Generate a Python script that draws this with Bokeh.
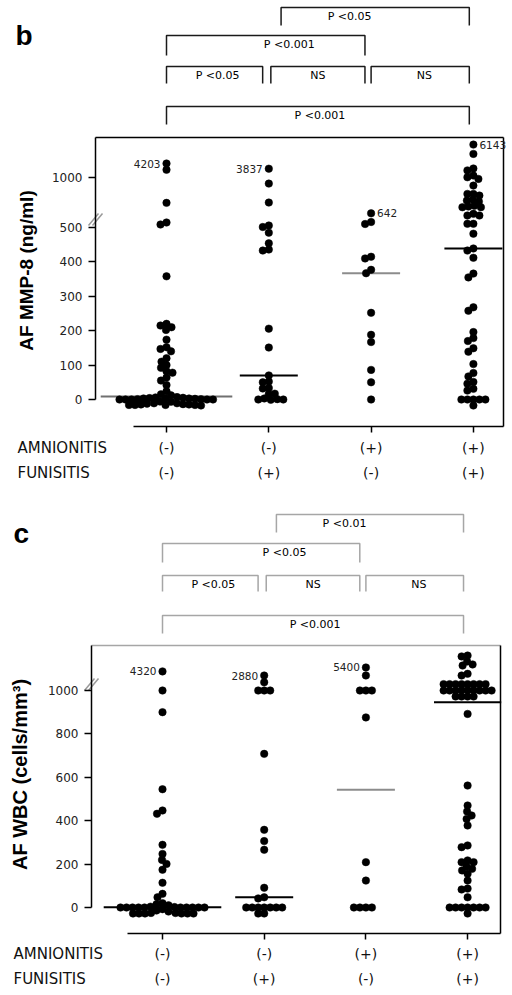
import numpy as np
from bokeh.plotting import figure
from bokeh.layouts import column
from bokeh.models import Range1d, FixedTicker, LinearAxis
from bokeh.core.properties import value
from bokeh.embed import file_html
from bokeh.resources import INLINE

# ---------------- categories ----------------
group_pos = [1, 2, 3, 4]
amnionitis_row = ["(-)", "(-)", "(+)", "(+)"]
funisitis_row = ["(-)", "(+)", "(-)", "(+)"]
row_titles = ["AMNIONITIS", "FUNISITIS"]

# ---------------- panel b: AF MMP-8 (ng/ml) ----------------
mmp8_g1 = [4203, 3800, 747, 550, 530, 358, 220, 215, 210, 205, 174, 152, 147, 140,
           120, 110, 100, 92, 85, 78, 68, 55, 42, 28,
           15, 12, 10, 7, 6, 5, 5, 4, 4, 3, 3, 3, 2, 2, 2, 1, 1, 1, 1,
           0, 0, 0, 0, 0, 0, 0, 0, 0, 0, 0]
mmp8_g2 = [3837, 940, 750, 520, 505, 485, 454, 436, 433, 206, 151, 70, 55, 50,
           35, 32, 20, 17, 3, 2, 1, 0, 0]
mmp8_g3 = [642, 555, 535, 415, 410, 377, 367, 252, 188, 167, 86, 50, 0]
mmp8_g4 = [6143, 5190, 3850, 3290, 1655, 1110, 987, 920, 837, 837, 820, 787, 770, 770,
           753, 720, 703, 703, 637, 620, 620, 537, 537, 482,
           439, 433, 412, 366, 355, 268, 258, 196, 180, 170, 149, 139, 103, 77, 67,
           51, 46, 31, 26, 0, 0, 0, 0, 0, 0]
mmp8_ticks = [0, 100, 200, 300, 400, 500, 1000]
mmp8_pvalues = ["P <0.05", "P <0.001", "P <0.05", "NS", "NS", "P <0.001"]
# broken axis: value -> axis coordinate
mmp8_scale_v = [0, 500, 1000, 3837, 4203, 6143]
mmp8_scale_t = [0, 500, 645, 671, 686, 741]

# ---------------- panel c: AF WBC (cells/mm3) ----------------
wbc_g1 = [4320, 1000, 900, 545, 447, 432, 289, 247, 224, 201, 174, 114, 63, 47,
          20, 15, 10, 6, 4, 2,
          0, 0, 0, 0, 0, 0, 0, 0, 0, 0, 0, 0, 0, 0, 0, 0, 0, 0, 0, 0]
wbc_g2 = [2880, 2035, 1000, 1000, 1000, 708, 358, 306, 266, 91, 47, 42,
          0, 0, 0, 0, 0, 0, 0, 0, 0]
wbc_g3 = [5400, 2900, 1000, 1000, 1000, 876, 209, 124, 0, 0, 0, 0]
wbc_g4 = [8700, 8460, 7320, 6240, 5940, 3486, 2880,
          1800, 1800, 1800, 1800, 1800, 1800, 1800, 1800, 1800, 1800, 1800,
          1000, 1000, 1000, 1000, 1000, 1000, 1000, 1000, 1000, 1000,
          892, 562, 470, 447, 424, 408, 378, 286, 278, 217, 209, 209, 201, 178,
          171, 155, 124, 87, 83, 47, 0, 0, 0, 0, 0, 0, 0, 0]
wbc_ticks = [0, 200, 400, 600, 800, 1000]
wbc_pvalues = ["P <0.01", "P <0.05", "P <0.05", "NS", "NS", "P <0.001"]
wbc_scale_v = [0, 1000, 2880, 4320, 5400, 9000]
wbc_scale_t = [0, 1000, 1069, 1088, 1106, 1166]


# ---------------- helpers ----------------
def swarm(t_vals, py, D=6.0, w=3.0, dy_lo=-7.0, dy_hi=3.0):
    ys = np.asarray(t_vals, float) * py
    n = len(ys)
    order = np.argsort(-ys, kind="stable")
    DX, DY = np.meshgrid(np.arange(-90.0, 90.01, 0.5), np.arange(dy_lo, dy_hi + 0.01, 0.5))
    DX = DX.ravel()
    DY = DY.ravel()
    base = np.abs(DX) + w * np.abs(DY) + 0.4 * DY
    px = np.empty(0)
    pyy = np.empty(0)
    offx = np.zeros(n)
    offy = np.zeros(n)
    for i in order:
        cy = ys[i] + DY
        if len(px):
            d2 = (DX[:, None] - px[None, :]) ** 2 + (cy[:, None] - pyy[None, :]) ** 2
            cost = np.where((d2 >= D * D).all(axis=1), base, np.inf)
        else:
            cost = base
        k = int(np.argmin(cost))
        offx[i] = DX[k]
        offy[i] = DY[k]
        px = np.append(px, DX[k])
        pyy = np.append(pyy, cy[k])
    return offx, offy


BRACKETS = [(2.12, 3.96, 2.79, 0), (1.0, 2.94, 2.2, 1), (1.0, 1.94, 1.5, 2),
            (2.02, 2.94, 2.48, 2), (3.0, 3.96, 3.52, 2), (1.0, 3.96, 2.5, 3)]
PAGE_W = 512
TXT = value("DejaVu Sans")
ARIAL = value("Liberation Sans")


def panel(letter, groups, sv, st, ticks, ylabel, ylabel_size, pvals, G,
          bracket_color, top_color, label_side, med_colors):
    x1, dxp, py, y0 = G["x1"], G["dxp"], G["py"], G["y0"]

    def gx(px):
        return 1 + (px - x1) / dxp

    def ty(page_y):
        return (y0 - page_y) / py

    top, bot = G["fig"]
    p = figure(width=PAGE_W, height=bot - top, x_range=Range1d(gx(0), gx(PAGE_W)),
               y_range=Range1d(ty(bot), ty(top)), output_backend="svg",
               toolbar_location=None, min_border=0,
               x_axis_location=None, y_axis_location=None)
    p.outline_line_color = None
    p.xgrid.visible = False
    p.ygrid.visible = False
    p.background_fill_color = "white"
    p.border_fill_color = "white"

    fl, fr, ft, fb = G["fl"], G["fr"], G["ft"], G["fb"]

    # ---- y axis (broken scale) ----
    yt = [float(np.interp(v, sv, st)) for v in ticks]
    yax = LinearAxis(fixed_location=gx(fl), bounds=(0, ty(ft)),
                     ticker=FixedTicker(ticks=yt),
                     major_label_overrides={t: str(v) for t, v in zip(yt, ticks)})
    yax.major_tick_in = 0
    yax.major_tick_out = 7
    yax.minor_tick_line_color = None
    yax.axis_line_width = 1.5
    yax.major_tick_line_width = 1.5
    yax.major_label_standoff = 6
    yax.major_label_text_font = "DejaVu Sans"
    yax.major_label_text_font_size = "12px"
    yax.major_label_text_color = "#222222"
    p.add_layout(yax, "left")

    # ---- x axis ----
    xax = LinearAxis(fixed_location=ty(fb), bounds=(gx(G["axis_start"]), gx(fr)),
                     ticker=FixedTicker(ticks=group_pos),
                     major_label_overrides={g: "" for g in group_pos})
    xax.major_label_text_font_size = "0px"
    xax.major_label_standoff = 0
    xax.major_tick_in = 0
    xax.major_tick_out = 6
    xax.minor_tick_line_color = None
    xax.axis_line_width = 1.5
    xax.major_tick_line_width = 1.5
    p.add_layout(xax, "below")

    # axis title
    p.text(x=[gx(G["title_x"])], y=[ty(G["title_y"])], text=[ylabel], angle=np.pi / 2,
           text_align="center", text_baseline="middle", text_font=ARIAL,
           text_font_style="bold", text_font_size=ylabel_size, text_color="black")

    # top and right frame lines
    p.segment(x0=[gx(fl)], y0=[ty(ft)], x1=[gx(fr)], y1=[ty(ft)], line_color=top_color,
              line_width=1.5)
    p.segment(x0=[gx(fr)], y0=[ty(ft)], x1=[gx(fr)], y1=[ty(fb)], line_color="black",
              line_width=1.5)

    # break marks on the y axis
    by = G["brk_y"]
    p.segment(x0=[gx(fl - 7), gx(fl - 3)], y0=[ty(by + 6), ty(by + 6)],
              x1=[gx(fl + 3), gx(fl + 7)], y1=[ty(by - 6), ty(by - 6)],
              line_color="#9a9a9a", line_width=1.5)

    # ---- significance brackets ----
    xs, ys, tx, tyy = [], [], [], []
    for (l, r, t, lv) in BRACKETS:
        bar, leg = G["levels"][lv]
        xs.append([l, l, r, r])
        ys.append([ty(leg), ty(bar), ty(bar), ty(leg)])
        tx.append(t)
        tyy.append(ty(bar + 9))
    p.multi_line(xs, ys, line_color=bracket_color, line_width=1.5)
    p.text(x=tx, y=tyy, text=pvals, text_align="center", text_baseline="middle",
           text_font=TXT, text_font_size="11px", text_color="black")

    # panel letter
    p.text(x=[gx(G["letter_x"])], y=[ty(G["letter_base"])], text=[letter],
           text_font=ARIAL, text_font_style="bold", text_font_size="28px",
           text_baseline="alphabetic", text_align="left", text_color="black")

    # ---- category labels ----
    r1, r2 = G["row_y"]
    p.text(x=[gx(G["row_x"])] * 2, y=[ty(r1), ty(r2)], text=row_titles, text_align="left",
           text_baseline="middle", text_font=TXT, text_font_size="15px", text_color="#111111")
    p.text(x=group_pos + group_pos, y=[ty(r1)] * 4 + [ty(r2)] * 4,
           text=amnionitis_row + funisitis_row, text_align="center", text_baseline="middle",
           text_font=TXT, text_font_size="14px", text_color="#111111")

    # ---- dots, medians, max labels ----
    dot_x, dot_y = [], []
    mx0, mx1, my, mc = [], [], [], []
    lab_x, lab_y, lab_t, lab_a = [], [], [], []
    for gi, vals in enumerate(groups):
        g = group_pos[gi]
        vals = np.asarray(vals, float)
        t = np.interp(vals, sv, st)
        ox, oy = swarm(t, py)
        dot_x.extend(g + ox / dxp)
        dot_y.extend(t + oy / py)
        med = float(np.interp(np.median(vals), sv, st))
        hw = max(29.0, 1.4 * float(np.max(np.abs(ox)))) / dxp
        mx0.append(g - hw)
        mx1.append(g + hw)
        my.append(med)
        mc.append(med_colors[gi])
        side = label_side[gi]
        if side:
            k = int(np.argmax(vals))
            xx = g + ox[k] / dxp
            if side == "left":
                lab_x.append(xx - 6 / dxp)
                lab_a.append("right")
            else:
                lab_x.append(xx + 6 / dxp)
                lab_a.append("left")
            lab_y.append(t[k] + oy[k] / py)
            lab_t.append(str(int(vals[k])))

    p.segment(x0=mx0, y0=my, x1=mx1, y1=my, line_color=mc, line_width=2)
    p.scatter(x=dot_x, y=dot_y, size=7.5, fill_color="black", line_color="black", line_width=0.5)
    p.text(x=lab_x, y=lab_y, text=lab_t, text_align=lab_a, text_baseline="middle",
           text_font=TXT, text_font_size="10.5px", text_color="#222222")
    return p


GB = dict(x1=166.0, dxp=102.3, py=0.344, fl=95, fr=503, ft=137, fb=426, y0=399.0,
          fig=(0, 500), axis_start=133, levels=[(7, 25), (35, 55), (66, 83), (106, 124)],
          letter_x=15, letter_base=35, row_y=(447, 472), row_x=17, brk_y=219,
          title_x=26, title_y=270)
GC = dict(x1=162.0, dxp=101.7, py=0.217, fl=91, fr=500, ft=645, fb=933, y0=907.0,
          fig=(500, 991), axis_start=127, levels=[(514, 532), (543, 562), (575, 591), (615, 633)],
          letter_x=13, letter_base=533, row_y=(953, 978), row_x=13, brk_y=684,
          title_x=19, title_y=774)

fig_b = panel("b", [mmp8_g1, mmp8_g2, mmp8_g3, mmp8_g4], mmp8_scale_v, mmp8_scale_t,
              mmp8_ticks, "AF MMP-8 (ng/ml)", "19px", mmp8_pvalues, GB,
              "#1a1a1a", "black", ["left", "left", "right", "right"],
              ["#707070", "black", "#8c8c8c", "black"])
fig_c = panel("c", [wbc_g1, wbc_g2, wbc_g3, wbc_g4], wbc_scale_v, wbc_scale_t,
              wbc_ticks, "AF WBC (cells/mm\u00b3)", "20px", wbc_pvalues, GC,
              "#a6a6a6", "#a6a6a6", ["left", "left", "left", None],
              ["black", "black", "#8c8c8c", "black"])

layout = column(fig_b, fig_c, spacing=0)
open("out.html", "w").write(file_html(layout, INLINE))
